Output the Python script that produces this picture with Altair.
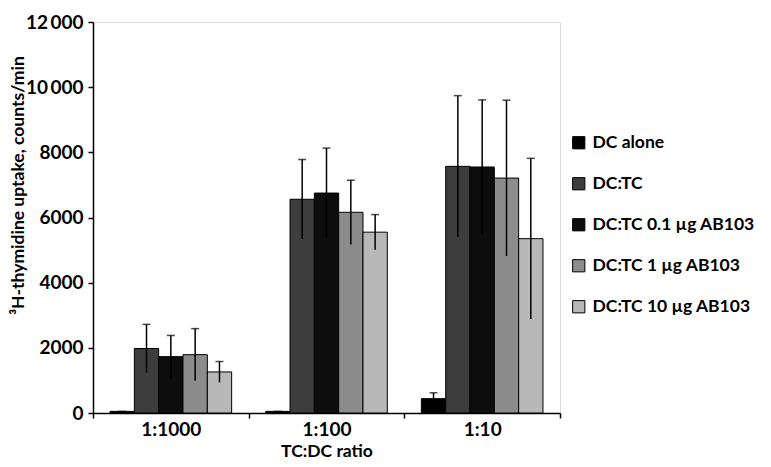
import altair as alt
import pandas as pd

ratios = ["1:1000", "1:100", "1:10"]
series = ["DC alone", "DC:TC", "DC:TC 0.1 µg AB103", "DC:TC 1 µg AB103", "DC:TC 10 µg AB103"]

dc_alone = [50, 50, 440]
dc_tc = [1980, 6560, 7570]
dc_tc_01 = [1730, 6750, 7550]
dc_tc_1 = [1790, 6160, 7210]
dc_tc_10 = [1260, 5550, 5350]

dc_alone_err = [0, 0, 180]
dc_tc_err = [740, 1220, 2170]
dc_tc_01_err = [650, 1380, 2060]
dc_tc_1_err = [800, 985, 2390]
dc_tc_10_err = [320, 540, 2465]

colors = ["#000000", "#3d3d3d", "#0d0d0d", "#8c8c8c", "#b8b8b8"]

means = [dc_alone, dc_tc, dc_tc_01, dc_tc_1, dc_tc_10]
errs = [dc_alone_err, dc_tc_err, dc_tc_01_err, dc_tc_1_err, dc_tc_10_err]

rows = []
for s, m, e in zip(series, means, errs):
    for r, v, er in zip(ratios, m, e):
        rows.append({"ratio": r, "series": s, "value": v, "lo": v - er, "hi": v + er})
df = pd.DataFrame(rows)

FONT = "Lato"

x = alt.X("ratio:N", sort=ratios, title="TC:DC ratio",
          scale=alt.Scale(paddingInner=0, paddingOuter=0),
          axis=alt.Axis(labelAngle=0, tickBand="extent", tickSize=5, tickColor="black",
                        domainColor="black", domainWidth=1.5, tickWidth=1.5,
                        labelFontSize=19, labelFont=FONT, labelFontWeight="bold", labelColor="black",
                        labelPadding=2, titleFontSize=17.5, titleFont=FONT, titleFontWeight="bold",
                        titleColor="black", titleY=43, titleBaseline="alphabetic"))
xo = alt.XOffset("series:N", sort=series, scale=alt.Scale(paddingInner=0, paddingOuter=0.7))

bars = alt.Chart(df).mark_bar(stroke="black", strokeWidth=1).encode(
    x=x,
    xOffset=xo,
    y=alt.Y("value:Q", title="³H-thymidine uptake, counts/min",
            scale=alt.Scale(domain=[0, 12000], nice=False),
            axis=alt.Axis(values=[0, 2000, 4000, 6000, 8000, 10000, 12000], grid=False,
                          labelExpr="datum.value >= 10000 ? floor(datum.value/1000) + '\u2009000' : datum.value",
                          tickSize=5, tickColor="black", tickWidth=1.5, domainColor="black", domainWidth=1.5,
                          labelFontSize=19, labelFont=FONT, labelFontWeight="bold", labelColor="black",
                          labelPadding=5, titleFontSize=17.5, titleFont=FONT, titleFontWeight="bold",
                          titleColor="black", titleX=-66, titleY=163)),
    fill=alt.Fill("series:N", sort=series, scale=alt.Scale(domain=series, range=colors),
                  legend=alt.Legend(title=None, orient="none", legendX=477, legendY=112,
                                    symbolType="square", symbolSize=150, symbolStrokeColor="black",
                                    symbolStrokeWidth=1, labelFontSize=17.5, labelFont=FONT,
                                    labelFontWeight="bold", labelColor="black", rowPadding=22,
                                    labelOffset=5, labelLimit=300)),
)

rules = alt.Chart(df).mark_rule(color="black", strokeWidth=1.5).encode(
    x=alt.X("ratio:N", sort=ratios), xOffset=xo, y="lo:Q", y2="hi:Q")

caps = alt.Chart(df).mark_tick(color="black", thickness=1.5, size=8).encode(
    x=alt.X("ratio:N", sort=ratios), xOffset=xo, y="hi:Q")

chart = alt.layer(bars, rules, caps).properties(
    width=467, height=391,
    autosize=alt.AutoSizeParams(type="none"),
    padding={"left": 85, "top": 14, "right": 203, "bottom": 46},
).configure_view(stroke=None).configure(background="white")

chart.save("out.html", embed_options={"renderer": "svg", "actions": False})
